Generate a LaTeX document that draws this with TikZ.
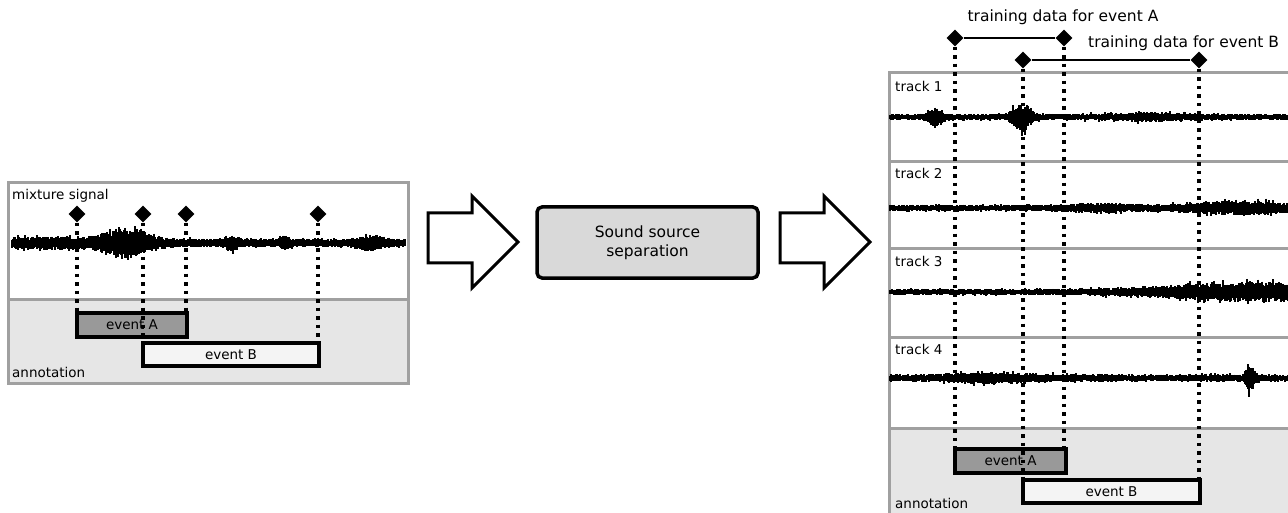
\documentclass[tikz,border=0pt]{standalone}
\usepackage{fontspec}
\setmainfont{DejaVu Sans}
\usetikzlibrary{shapes.geometric}

\definecolor{panelgray}{HTML}{A0A0A0}
\definecolor{annofill}{HTML}{E6E6E6}
\definecolor{evAfill}{HTML}{999999}
\definecolor{evBfill}{HTML}{F4F4F4}
\definecolor{sepfill}{HTML}{D9D9D9}

\tikzset{
  panel/.style={draw=panelgray, line width=3pt},
  tag/.style={font=\fontsize{13.5}{16}\selectfont, anchor=base west, inner sep=0pt},
  bigtag/.style={font=\fontsize{15.5}{19}\selectfont, inner sep=0pt},
  marker/.style={diamond, fill=black, minimum size=17pt, inner sep=0pt},
  eventbox/.style={draw=black, line width=3.5pt, inner sep=0pt, font=\fontsize{13.5}{16}\selectfont},
  sepbox/.style={draw=black, line width=3.5pt, rounded corners=5pt, fill=sepfill,
    minimum width=221pt, minimum height=71pt, align=center, font=\fontsize{15.5}{19}\selectfont},
  guide/.style={line width=3.5pt, dash pattern=on 3.5pt off 5pt},
  wave/.style={line width=1.2pt},
  blockarrow/.style={draw=black, fill=white, line width=3pt, line join=miter},
}

% #1 start x, #2 end x, #3 centre y, #4 envelope (in \x)
\newcommand{\drawwave}[4]{%
  \draw[line width=4pt] (#1,#3) -- (#2,#3);
  \foreach \x in {#1,...,#2}{%
    \pgfmathsetmacro{\env}{1.4*(#4)}%
    \pgfmathsetmacro{\up}{\env*(0.5+0.5*rnd+0.5*rnd^10)}%
    \pgfmathsetmacro{\dn}{\env*(0.5+0.5*rnd+0.5*rnd^10)}%
    \draw[wave] (\x,#3-\up) -- (\x,#3+\dn);
  }}

\begin{document}
\begin{tikzpicture}[x=1pt, y=-1pt,
    declare function={bump(\t,\c,\w)=exp(-min(((\t-\c)/\w)^2,30));}]
  \clip (0,0) rectangle (1288,513);
  \pgfmathsetseed{3}

  %% Mixture panel
  \fill[white] (8,183) rectangle (408,299);
  \fill[annofill] (8,299) rectangle (408,383);
  \draw[panel] (8,183) rectangle (408,383);
  \draw[panel] (8,299) -- (408,299);
  \drawwave{12}{405}{243}{3+2*bump(\x,50,40)+8*bump(\x,125,28)+4*bump(\x,232,6)+3*bump(\x,285,5)+3*bump(\x,372,15)}
  \node[tag] (mixlabel) at (12,200) {mixture signal};
  \node[tag] (annolabel) at (12,377) {annotation};

  \node[eventbox, fill=evAfill, minimum width=110pt, minimum height=24pt] (evA) at (132,325) {event A};
  \node[eventbox, fill=evBfill, minimum width=176pt, minimum height=23pt] (evB) at (231,354.5) {event B};

  \node[marker] (mA1) at (77,214) {};
  \node[marker] (mB1) at (143,214) {};
  \node[marker] (mA2) at (186,214) {};
  \node[marker] (mB2) at (318,214) {};

  \draw[guide] (mA1.south) -- (mA1 |- evA.north);
  \draw[guide] (mA2.south) -- (mA2 |- evA.north);
  \draw[guide] (mB1.south) -- (mB1 |- evB.north);
  \draw[guide] (mB2.south) -- (mB2 |- evB.north);

  %% Arrows and separation
  \draw[blockarrow, shift={(428,0)}] (0,213) -- (44,213) -- (44,196) -- (90,242) -- (44,288) -- (44,263) -- (0,263) -- cycle;
  \node[sepbox] (sep) at (647.5,242.5) {Sound source\\separation};
  \draw[blockarrow, shift={(780,0)}] (0,213) -- (44,213) -- (44,196) -- (90,242) -- (44,288) -- (44,263) -- (0,263) -- cycle;

  %% Separated tracks
  \fill[white] (889,73) rectangle (1300,428);
  \fill[annofill] (889,428) rectangle (1300,520);
  \draw[panel] (1300,73) -- (889,73) -- (889,520);
  \foreach \y in {162,249,337,428}
    \draw[panel] (889,\y) -- (1300,\y);

  \drawwave{890}{1290}{117}{2.2+5*bump(\x,935,7)+8*bump(\x,1022,10)+1.5*bump(\x,1150,40)}
  \drawwave{890}{1290}{208}{2.2+3*bump(\x,1240,60)+1.5*bump(\x,1100,40)}
  \drawwave{890}{1290}{292}{2.2+5*bump(\x,1260,110)}
  \drawwave{890}{1290}{378}{2.6+2*bump(\x,990,40)+8*bump(\x,1250,5)}

  \node[tag] (tr1) at (895,92) {track 1};
  \node[tag] (tr2) at (895,179) {track 2};
  \node[tag] (tr3) at (895,266) {track 3};
  \node[tag] (tr4) at (895,354) {track 4};
  \node[tag] (annolabelR) at (895,508) {annotation};

  \node[eventbox, fill=evAfill, minimum width=111pt, minimum height=24pt] (revA) at (1010.5,461) {event A};
  \node[eventbox, fill=evBfill, minimum width=177pt, minimum height=23pt] (revB) at (1111.5,491.5) {event B};

  %% Training data ranges
  \node[marker] (tA1) at (955,38) {};
  \node[marker] (tA2) at (1064,38) {};
  \node[marker] (tB1) at (1023,60) {};
  \node[marker] (tB2) at (1199,60) {};
  \draw[line width=2pt] (tA1) -- (tA2);
  \draw[line width=2pt] (tB1) -- (tB2);
  \node[bigtag, anchor=base] (capA) at (1063,22) {training data for event A};
  \node[bigtag, anchor=base west] (capB) at (1088,48) {training data for event B};

  \draw[guide] (tA1.south) -- (tA1 |- revA.north);
  \draw[guide] (tA2.south) -- (tA2 |- revA.north);
  \draw[guide] (tB1.south) -- (tB1 |- revB.north);
  \draw[guide] (tB2.south) -- (tB2 |- revB.north);
\end{tikzpicture}
\end{document}
